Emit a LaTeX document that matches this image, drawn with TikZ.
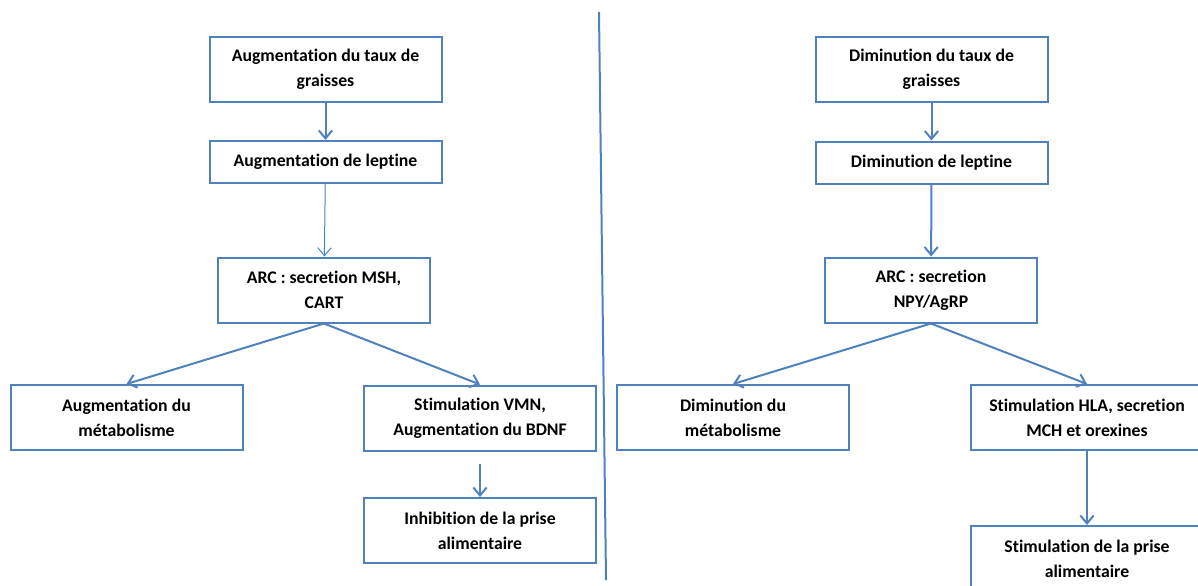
\documentclass[tikz,border=0pt]{standalone}
\usepackage{fontspec}
\setmainfont{Carlito}[Ligatures=NoCommon]
\usepackage{tikz}
\usetikzlibrary{arrows.meta, calc}
\definecolor{linkblue}{RGB}{79,129,189}

\begin{document}
\begin{tikzpicture}[x=0.75pt, y=-0.75pt,
    box/.style={draw=linkblue, line width=1.5pt, align=center, inner sep=0pt,
        minimum width=174pt, minimum height=48.75pt,
        font=\bfseries\fontsize{13.3}{18.75}\selectfont},
    thinbox/.style={box, minimum height=31.5pt},
    arcbox/.style={box, minimum width=159pt},
    link/.style={linkblue, line width=1.5pt, -{Straight Barb[length=6pt,width=10pt]}}]
\useasboundingbox (0,0) rectangle (1198,585);
% Augmentation
\node[box] (b1) at (325.5,69.5) {Augmentation du taux de\\graisses};
\node[thinbox] (b2) at (325.5,162) {Augmentation de leptine};
\node[arcbox] (b3) at (324,290) {ARC : secretion MSH,\\CART};
\node[box] (b4) at (126.5,417.5) {Augmentation du\\métabolisme};
\node[box] (b5) at (480,418) {Stimulation VMN,\\Augmentation du BDNF};
\node[box] (b6) at (480,530.5) {Inhibition de la prise\\alimentaire};
\coordinate (b5s) at ($(b5.south)+(0,12)$);
\draw[link] (b1) -- (b2);
\draw[link, line width=0.75pt] (b2) -- (b3);
\draw[link] (b3.south) -- (b4.north);
\draw[link] (b3.south) -- (b5.north);
\draw[link] (b5s) -- (b6);
% separation
\draw[linkblue, line width=1.5pt] (599,12) -- (606,580);
% Diminution
\node[box] (r1) at (931.5,69.5) {Diminution du taux de\\graisses};
\node[thinbox] (r2) at (931.5,162.5) {Diminution de leptine};
\node[arcbox] (r3) at (931,290) {ARC : secretion\\NPY/AgRP};
\node[box] (r4) at (733,417.5) {Diminution du\\métabolisme};
\node[box] (r5) at (1087,417.5) {Stimulation HLA, secretion\\MCH et orexines};
\node[box] (r6) at (1087,558.5) {Stimulation de la prise\\alimentaire};
\draw[link] (r1) -- (r2);
\draw[link] (r2) -- (r3);
\draw[link] (r3.south) -- (r4.north);
\draw[link] (r3.south) -- (r5.north);
\draw[link] (r5) -- (r6);
\end{tikzpicture}
\end{document}
